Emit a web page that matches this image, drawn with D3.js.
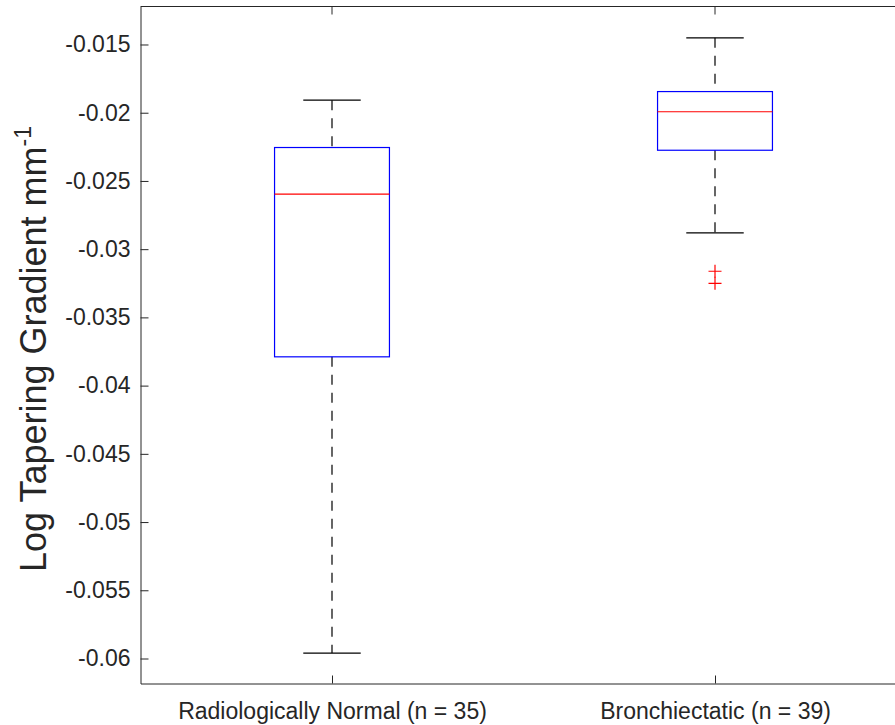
<!DOCTYPE html>
<html>
<head>
<meta charset="utf-8">
<script src="https://cdn.jsdelivr.net/npm/d3@7"></script>
<style>
  html, body { margin: 0; padding: 0; background: #fff; }
  svg { display: block; }
  text { font-family: "Liberation Sans", Arial, Helvetica, sans-serif; fill: #262626; }
</style>
</head>
<body>
<script>
// Box plot summary per group
const categories   = ["Radiologically Normal (n = 35)", "Bronchiectatic (n = 39)"];
const whiskerHigh  = [-0.01908, -0.01451];
const upperQuart   = [-0.02255, -0.01845];
const medians      = [-0.02597, -0.01993];
const lowerQuart   = [-0.03789, -0.02275];
const whiskerLow   = [-0.05960, -0.02880];
const outliers     = [[], [-0.03162, -0.03250]];
const yTickValues  = [-0.06, -0.055, -0.05, -0.045, -0.04, -0.035, -0.03, -0.025, -0.02, -0.015];
const yLimits      = [-0.061832, -0.012215];
const yLabelMain   = "Log Tapering Gradient mm";
const yLabelSup    = "-1";

const W = 895, H = 725;
const axisColor = "#262626";

const svg = d3.select("body").append("svg")
  .attr("width", W).attr("height", H);

const x = d3.scaleLinear().domain([0.5, 2.5]).range([140.5, 906.5]);
const y = d3.scaleLinear().domain(yLimits).range([683.5, 6.5]);

const boxHalf = 0.15, capHalf = 0.075;

// Plot frame (top and left visible; right side runs off the page)
svg.append("line").attr("x1", x(0.5)).attr("x2", x(2.5)).attr("y1", y(yLimits[1])).attr("y2", y(yLimits[1]))
  .attr("stroke", axisColor).attr("stroke-width", 1);

// Y axis (ticks drawn inward)
const yAxis = d3.axisLeft(y).tickValues(yTickValues).tickSizeInner(-8).tickSizeOuter(0)
  .tickPadding(10).tickFormat(v => String(+v.toFixed(3)));
const gy = svg.append("g").attr("transform", `translate(${x(0.5)},0)`).call(yAxis);
gy.select(".domain").attr("stroke", axisColor);
gy.selectAll(".tick line").attr("stroke", axisColor);
gy.selectAll(".tick text").attr("font-size", 23).attr("fill", axisColor)
  .style("font-family", '"Liberation Sans", Arial, sans-serif');

// X axis (category positions)
const xAxis = d3.axisBottom(x).tickValues([1, 2]).tickSizeInner(-8).tickSizeOuter(0)
  .tickPadding(19).tickFormat(d => categories[d - 1]);
const gx = svg.append("g").attr("transform", `translate(0,${y(yLimits[0])})`).call(xAxis);
gx.select(".domain").attr("stroke", axisColor);
gx.selectAll(".tick line").attr("stroke", axisColor);
gx.selectAll(".tick text").attr("font-size", 23).attr("fill", axisColor)
  .style("font-family", '"Liberation Sans", Arial, sans-serif');

// Top box ticks
svg.append("g").selectAll("line").data([1, 2]).join("line")
  .attr("x1", d => x(d)).attr("x2", d => x(d))
  .attr("y1", y(yLimits[1])).attr("y2", y(yLimits[1]) + 8)
  .attr("stroke", axisColor);

// Boxes
const groups = categories.map((c, i) => ({
  pos: i + 1, hi: whiskerHigh[i], q3: upperQuart[i], med: medians[i],
  q1: lowerQuart[i], lo: whiskerLow[i], out: outliers[i]
}));

const g = svg.append("g");
groups.forEach(d => {
  // whiskers
  g.append("line").attr("x1", x(d.pos)).attr("x2", x(d.pos))
    .attr("y1", y(d.hi)).attr("y2", y(d.q3))
    .attr("stroke", "#000").attr("stroke-width", 1.2).attr("stroke-dasharray", "10,8");
  g.append("line").attr("x1", x(d.pos)).attr("x2", x(d.pos))
    .attr("y1", y(d.q1)).attr("y2", y(d.lo))
    .attr("stroke", "#000").attr("stroke-width", 1.2).attr("stroke-dasharray", "10,8");
  // caps
  [d.hi, d.lo].forEach(v => {
    g.append("line").attr("x1", x(d.pos - capHalf)).attr("x2", x(d.pos + capHalf))
      .attr("y1", y(v)).attr("y2", y(v))
      .attr("stroke", "#000").attr("stroke-width", 1.2);
  });
  // box
  g.append("rect").attr("x", x(d.pos - boxHalf)).attr("y", y(d.q3))
    .attr("width", x(d.pos + boxHalf) - x(d.pos - boxHalf))
    .attr("height", y(d.q1) - y(d.q3))
    .attr("fill", "none").attr("stroke", "#0000ff").attr("stroke-width", 1.2);
  // median
  g.append("line").attr("x1", x(d.pos - boxHalf)).attr("x2", x(d.pos + boxHalf))
    .attr("y1", y(d.med)).attr("y2", y(d.med))
    .attr("stroke", "#ff0000").attr("stroke-width", 1.2);
  // outliers as '+'
  d.out.forEach(v => {
    const cx = x(d.pos), cy = y(v), r = 6.5;
    g.append("path").attr("d", `M${cx - r},${cy}H${cx + r}M${cx},${cy - r}V${cy + r}`)
      .attr("stroke", "#ff0000").attr("stroke-width", 1.2).attr("fill", "none");
  });
});

// Y label with superscript
const yl = svg.append("text")
  .attr("transform", `translate(46,349) rotate(-90)`)
  .attr("text-anchor", "middle")
  .attr("font-size", 36)
  .attr("fill", "#000");
yl.append("tspan").text(yLabelMain);
yl.append("tspan").attr("dy", -15).attr("font-size", 23).text(yLabelSup);
</script>
</body>
</html>
